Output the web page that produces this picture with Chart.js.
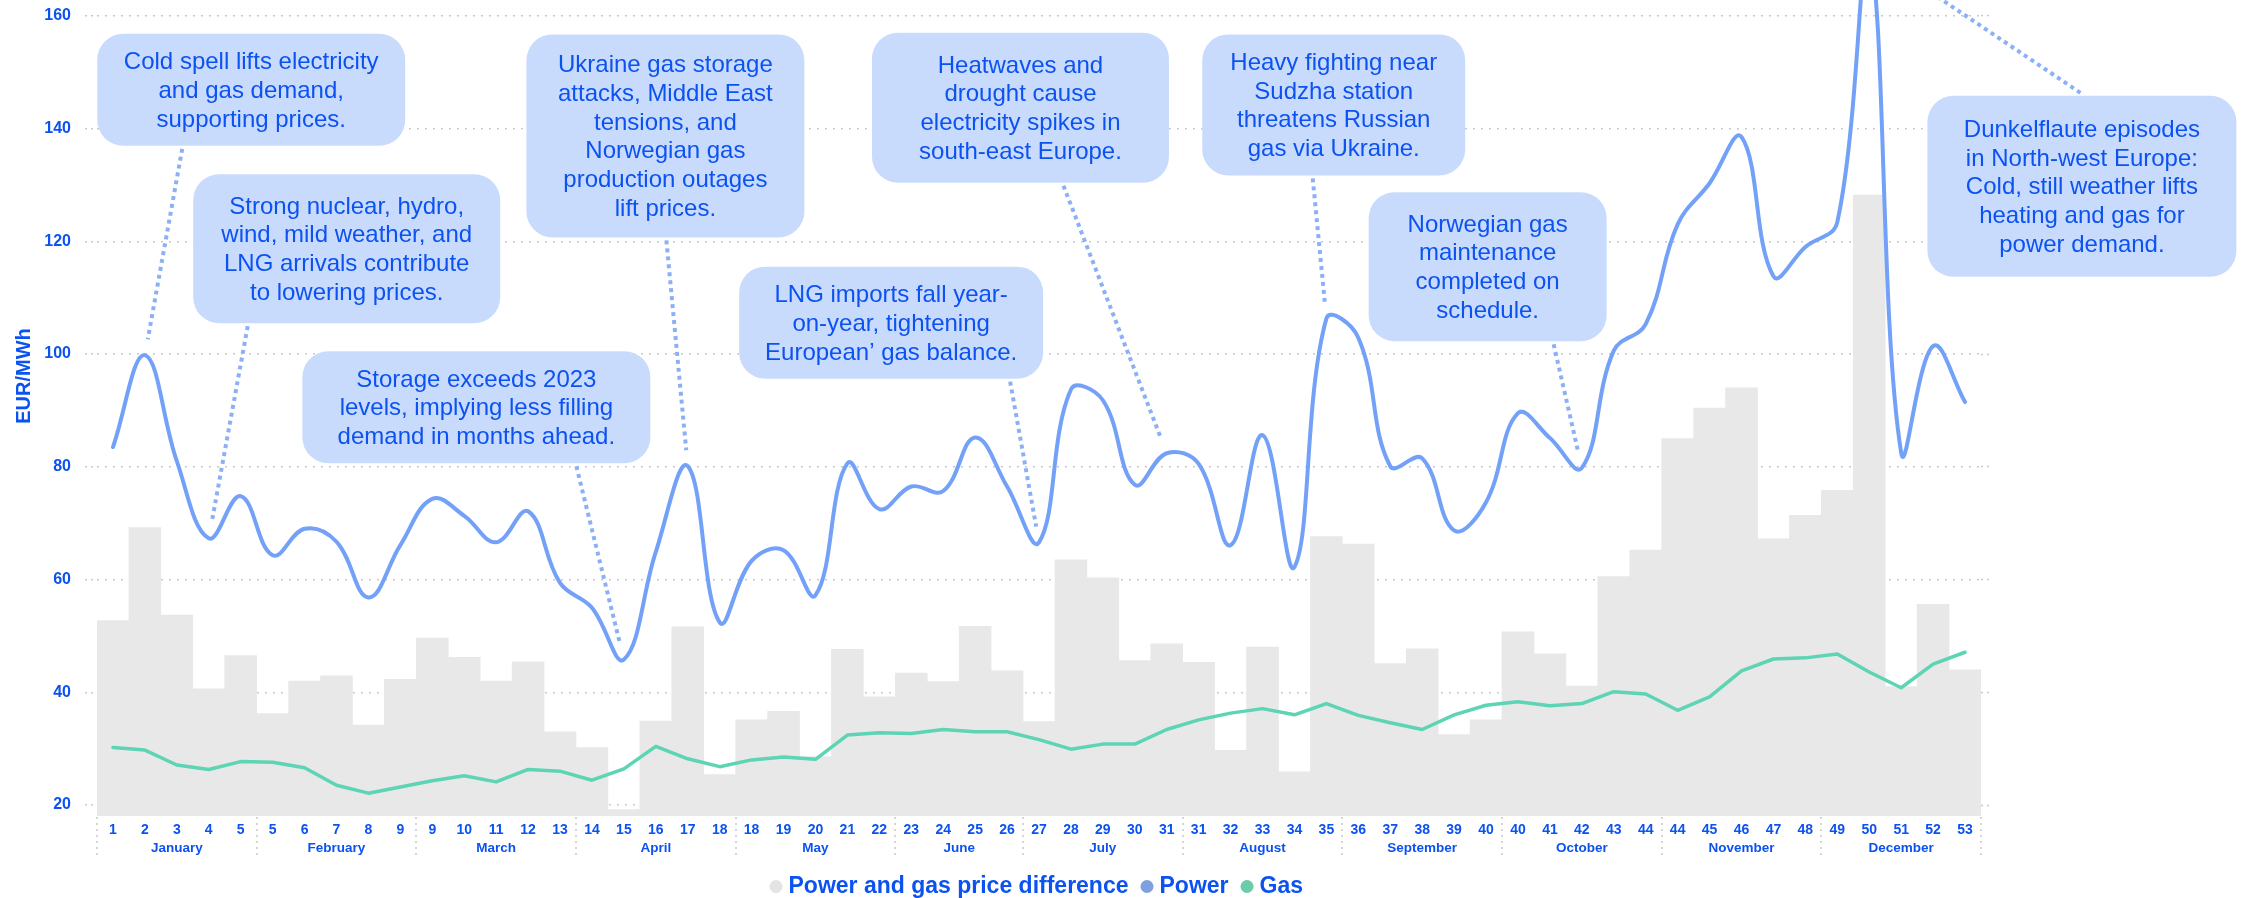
<!DOCTYPE html>
<html>
<head>
<meta charset="utf-8">
<script src="https://cdn.jsdelivr.net/npm/chart.js@4/dist/chart.umd.min.js"></script>
<style>
  html, body { margin: 0; padding: 0; background: #ffffff; }
  #wrap { width: 2242px; height: 898px; position: relative; }
</style>
</head>
<body>
<div id="wrap"><canvas id="c" width="2242" height="898"></canvas></div>
<script>
// ---------- DATA ----------
const weekLabels = ['1','2','3','4','5','5','6','7','8','9','9','10','11','12','13','14','15','16','17','18','18','19','20','21','22','23','24','25','26','27','28','29','30','31','31','32','33','34','35','36','37','38','39','40','40','41','42','43','44','44','45','46','47','48','49','50','51','52','53'];
const months = ['January','February','March','April','May','June','July','August','September','October','November','December'];
const monthWeeks = [5,5,5,5,5,4,5,5,5,5,5,5];

const power = [83.5, 99.8, 81.0, 67.3, 74.8, 64.3, 69.0, 66.7, 56.8, 66.1,
               74.3, 71.3, 66.6, 72.1, 59.4, 55.0, 45.8, 64.9, 80.1, 52.4,
               63.3, 65.2, 57.2, 80.6, 72.5, 76.5, 75.7, 85.2, 76.5, 66.6,
               93.7, 91.8, 76.8, 82.4, 80.5, 66.1, 85.6, 62.2, 106.3, 102.9,
               80.1, 81.5, 68.7, 73.7, 89.5, 85.1, 79.8, 100.6, 105.3, 123.0,
               130.3, 138.5, 113.8, 119.0, 123.4, 171.5, 82.5, 101.4, 91.5];

const gas = [30.2, 29.75, 27.1, 26.3, 27.7, 27.6, 26.6, 23.5, 22.1, 23.2,
             24.3, 25.2, 24.1, 26.3, 26.0, 24.4, 26.4, 30.4, 28.2, 26.8,
             28.0, 28.5, 28.1, 32.4, 32.8, 32.7, 33.4, 33.0, 33.0, 31.6,
             29.9, 30.8, 30.8, 33.4, 35.1, 36.3, 37.1, 36.0, 38.0, 35.9,
             34.6, 33.4, 36.0, 37.7, 38.3, 37.6, 38.0, 40.1, 39.7, 36.8,
             39.2, 43.8, 45.9, 46.1, 46.8, 43.6, 40.8, 45.0, 47.1];

const spread = [52.7, 69.2, 53.7, 40.6, 46.5, 36.2, 42.0, 42.9, 34.2, 42.3,
                49.6, 46.2, 42.0, 45.4, 33.0, 30.2, 19.2, 34.9, 51.6, 25.4,
                35.1, 36.6, 28.6, 47.6, 39.2, 43.4, 41.9, 51.7, 43.8, 34.8,
                63.5, 60.3, 45.6, 48.6, 45.3, 29.7, 48.0, 25.9, 67.6, 66.3,
                45.1, 47.7, 32.5, 35.1, 50.7, 46.8, 41.1, 60.5, 65.2, 85.0,
                90.4, 94.0, 67.2, 71.4, 75.8, 128.2, 41.0, 55.6, 44.0];

const seriesNames = ['Power and gas price difference', 'Power', 'Gas'];
const yTitle = 'EUR/MWh';

// annotation texts and the week index each one points to
const noteTexts = [
  ['Cold spell lifts electricity', 'and gas demand,', 'supporting prices.'],
  ['Strong nuclear, hydro,', 'wind, mild weather, and', 'LNG arrivals contribute', 'to lowering prices.'],
  ['Storage exceeds 2023', 'levels, implying less filling', 'demand in months ahead.'],
  ['Ukraine gas storage', 'attacks, Middle East', 'tensions, and', 'Norwegian gas', 'production outages', 'lift prices.'],
  ['LNG imports fall year-', 'on-year, tightening', 'European\u2019 gas balance.'],
  ['Heatwaves and', 'drought cause', 'electricity spikes in', 'south-east Europe.'],
  ['Heavy fighting near', 'Sudzha station', 'threatens Russian', 'gas via Ukraine.'],
  ['Norwegian gas', 'maintenance', 'completed on', 'schedule.'],
  ['Dunkelflaute episodes', 'in North-west Europe:', 'Cold, still weather lifts', 'heating and gas for', 'power demand.']
];
const noteTargets = [1, 3, 16, 18, 29, 33, 38, 46, 55];

// ---------- LAYOUT / STYLE (annotation placement, in axis units + px) ----------
const noteLayout = [
  {cx: 4.33,  top: 156.8, w: 308, h: 112, side: 'bottom', dx: -69},
  {cx: 7.32,  top: 131.9, w: 307, h: 149, side: 'bottom', dx: -99},
  {cx: 11.38, top: 100.5, w: 348, h: 112, side: 'bottom', dx: 100},
  {cx: 17.30, top: 156.7, w: 278, h: 203, side: 'bottom', dx: 1},
  {cx: 24.37, top: 115.5, w: 304, h: 112, side: 'bottom', dx: 119},
  {cx: 28.42, top: 157.0, w: 297, h: 150, side: 'bottom', dx: 43},
  {cx: 38.23, top: 156.7, w: 263, h: 141, side: 'bottom', dx: -21},
  {cx: 43.05, top: 128.7, w: 238, h: 149, side: 'bottom', dx: 66},
  {cx: 61.66, top: 145.8, w: 309, h: 181, side: 'top',    dx: -1.5}
];

const FONT = '"Liberation Sans", Arial, Helvetica, sans-serif';
const BLUE = '#0b52f0';
const BOX_FILL = '#c9dbfd';
const LEADER = '#8cb0f6';
const GRID = '#c9c9c9';
const POWER_COLOR = '#74a1f8';
const GAS_COLOR = '#5dd4b3';
const BAR_COLOR = '#e8e8e8';
const LEGEND_FILLS = ['#e4e4e4', '#7f9fde', '#6ccba9'];
const Y_MIN = 18.05, Y_MAX = 162.8;

Chart.defaults.font.family = FONT;

function roundRectPath(ctx, x, y, w, h, r) {
  ctx.beginPath();
  ctx.moveTo(x + r, y);
  ctx.lineTo(x + w - r, y);
  ctx.arcTo(x + w, y, x + w, y + r, r);
  ctx.lineTo(x + w, y + h - r);
  ctx.arcTo(x + w, y + h, x + w - r, y + h, r);
  ctx.lineTo(x + r, y + h);
  ctx.arcTo(x, y + h, x, y + h - r, r);
  ctx.lineTo(x, y + r);
  ctx.arcTo(x, y, x + r, y, r);
  ctx.closePath();
}

const decorPlugin = {
  id: 'decor',
  afterDatasetsDraw(chart) {
    const {ctx, scales: {x, y}} = chart;
    ctx.save();
    ctx.strokeStyle = LEADER;
    ctx.lineWidth = 4;
    ctx.setLineDash([4, 4]);
    noteLayout.forEach((n, k) => {
      const bx = x.getPixelForValue(n.cx);
      const btop = y.getPixelForValue(n.top);
      const sx = bx + n.dx;
      const sy = n.side === 'bottom' ? btop + n.h + 3 : btop - 3;
      const ti = noteTargets[k];
      const tx = x.getPixelForValue(ti);
      const ty = y.getPixelForValue(power[ti]);
      const dxl = tx - sx, dyl = ty - sy;
      const len = Math.hypot(dxl, dyl);
      const gap = 16;
      const ex = tx - dxl / len * gap, ey = ty - dyl / len * gap;
      ctx.beginPath();
      ctx.moveTo(sx, sy);
      ctx.lineTo(ex, ey);
      ctx.stroke();
    });
    ctx.restore();
  },
  afterDraw(chart) {
    const {ctx, chartArea, scales: {x, y}} = chart;
    ctx.save();
    // month separators
    const bounds = [0];
    monthWeeks.forEach(n => bounds.push(bounds[bounds.length - 1] + n));
    ctx.strokeStyle = GRID;
    ctx.lineWidth = 1.5;
    ctx.setLineDash([2, 4]);
    bounds.forEach(b => {
      const px = Math.round(x.getPixelForValue(b - 0.5));
      ctx.beginPath();
      ctx.moveTo(px, chartArea.bottom + 1);
      ctx.lineTo(px, chartArea.bottom + 41);
      ctx.stroke();
    });
    ctx.setLineDash([]);
    // month labels
    ctx.fillStyle = BLUE;
    ctx.font = 'bold 13.5px ' + FONT;
    ctx.textAlign = 'center';
    ctx.textBaseline = 'middle';
    months.forEach((m, k) => {
      const cxv = (bounds[k] + bounds[k + 1] - 1) / 2;
      ctx.fillText(m, x.getPixelForValue(cxv), chartArea.bottom + 32);
    });
    // y axis title
    ctx.save();
    ctx.translate(24.5, 376);
    ctx.rotate(-Math.PI / 2);
    ctx.font = 'bold 20px ' + FONT;
    ctx.fillText(yTitle, 0, 0);
    ctx.restore();
    // annotation boxes
    noteLayout.forEach((n, k) => {
      const cx = x.getPixelForValue(n.cx);
      const top = y.getPixelForValue(n.top);
      const left = cx - n.w / 2;
      ctx.fillStyle = BOX_FILL;
      roundRectPath(ctx, left, top, n.w, n.h, 26);
      ctx.fill();
      const lines = noteTexts[k];
      const lh = 28.8;
      const mid = top + n.h / 2 + 1.5;
      ctx.fillStyle = BLUE;
      ctx.font = '24px ' + FONT;
      ctx.textAlign = 'center';
      ctx.textBaseline = 'middle';
      lines.forEach((t, i) => {
        ctx.fillText(t, cx, mid + (i - (lines.length - 1) / 2) * lh);
      });
    });
    ctx.restore();
  }
};

const ctx = document.getElementById('c').getContext('2d');
new Chart(ctx, {
  type: 'bar',
  data: {
    labels: weekLabels,
    datasets: [
      {
        type: 'bar',
        label: seriesNames[0],
        data: spread,
        backgroundColor: BAR_COLOR,
        borderWidth: 0,
        categoryPercentage: 1.0,
        barPercentage: 1.0,
        order: 2
      },
      {
        type: 'line',
        label: seriesNames[1],
        data: power,
        borderColor: POWER_COLOR,
        backgroundColor: LEGEND_FILLS[1],
        borderWidth: 4,
        tension: 0.4,
        pointRadius: 0,
        pointHoverRadius: 0,
        fill: false,
        borderCapStyle: 'round',
        borderJoinStyle: 'round',
        order: 0
      },
      {
        type: 'line',
        label: seriesNames[2],
        data: gas,
        borderColor: GAS_COLOR,
        backgroundColor: LEGEND_FILLS[2],
        borderWidth: 3.5,
        tension: 0,
        pointRadius: 0,
        pointHoverRadius: 0,
        fill: false,
        borderCapStyle: 'round',
        borderJoinStyle: 'round',
        order: 1
      }
    ]
  },
  options: {
    responsive: false,
    animation: false,
    devicePixelRatio: 1,
    layout: { padding: { top: 0, left: 0, right: 249, bottom: -10 } },
    plugins: {
      tooltip: { enabled: false },
      legend: {
        display: true,
        position: 'bottom',
        fullSize: false,
        align: 'center',
        labels: {
          usePointStyle: true,
          boxWidth: 2,
          boxHeight: 9.2,
          padding: 17.5,
          color: BLUE,
          font: { size: 23, weight: 'bold', family: FONT },
          generateLabels: (chart) => chart.data.datasets.map((ds, i) => ({
            text: ds.label,
            fillStyle: LEGEND_FILLS[i],
            strokeStyle: 'rgba(0,0,0,0)',
            lineWidth: 0,
            pointStyle: 'circle',
            hidden: !chart.isDatasetVisible(i),
            datasetIndex: i,
            fontColor: BLUE
          }))
        }
      }
    },
    scales: {
      x: {
        type: 'category',
        offset: true,
        grid: { display: false, drawTicks: false },
        border: { display: false },
        ticks: {
          autoSkip: false,
          maxRotation: 0,
          minRotation: 0,
          padding: 6,
          color: BLUE,
          font: { size: 14, weight: 'bold', family: FONT }
        },
        afterFit(s) { s.height = 41.5; s.paddingLeft = 0; s.paddingRight = 0; }
      },
      y: {
        type: 'linear',
        position: 'left',
        min: Y_MIN,
        max: Y_MAX,
        ticks: {
          stepSize: 20,
          includeBounds: false,
          padding: 14,
          color: BLUE,
          font: { size: 16, weight: 'bold', family: FONT }
        },
        grid: {
          color: GRID,
          lineWidth: 1.5,
          drawTicks: true,
          tickLength: 12,
          tickColor: GRID,
          tickWidth: 1.5,
          tickBorderDash: [2, 4]
        },
        border: { display: false, dash: [2, 6] },
        title: { display: false },
        afterFit(s) { s.width = 97; s.paddingTop = 0; s.paddingBottom = 0; }
      },
      y2: {
        type: 'linear',
        position: 'right',
        min: Y_MIN,
        max: Y_MAX,
        ticks: { display: false, stepSize: 20, includeBounds: false },
        grid: {
          drawOnChartArea: false,
          drawTicks: true,
          tickLength: 12,
          tickColor: GRID,
          tickWidth: 1.5,
          tickBorderDash: [2, 4]
        },
        border: { display: false },
        afterFit(s) { s.width = 12; s.paddingTop = 0; s.paddingBottom = 0; }
      }
    }
  },
  plugins: [decorPlugin]
});
</script>
</body>
</html>
